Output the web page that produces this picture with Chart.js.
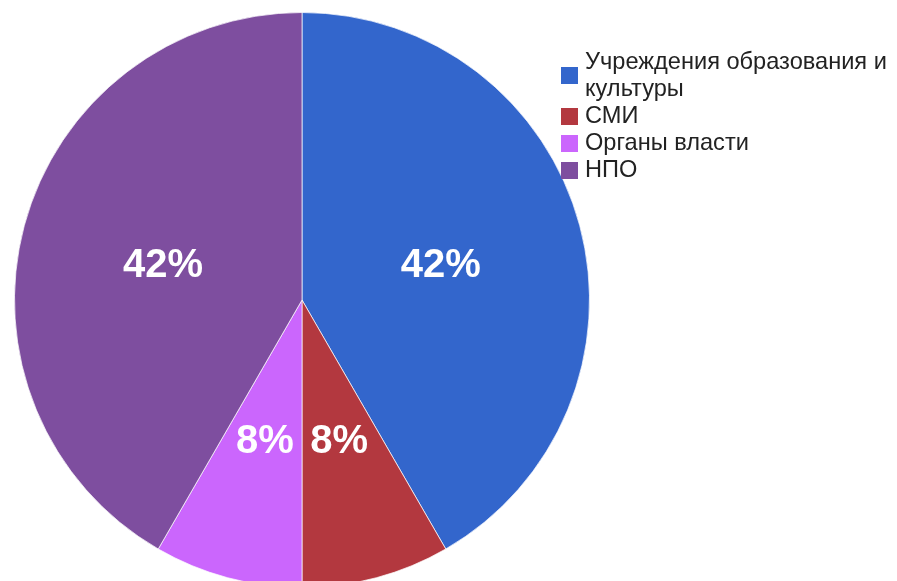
<!DOCTYPE html>
<html>
<head>
<meta charset="utf-8">
<script src="https://cdn.jsdelivr.net/npm/chart.js@4"></script>
<style>
  html, body { margin: 0; padding: 0; background: #fff; overflow: hidden; }
  #wrap { position: relative; width: 897px; height: 600px; }
  #legend { position: absolute; left: 561px; top: 48px; width: 336px;
    font-family: "Liberation Sans", Arial, sans-serif; font-size: 23.6px; color: #222; line-height: 27px; }
  .item { position: relative; padding-left: 24px; }
  .box { position: absolute; left: 0; width: 17px; height: 17px; top: 50%; margin-top: -8px; }
</style>
</head>
<body>
<div id="wrap">
  <canvas id="pie" width="897" height="600"></canvas>
  <div id="legend"></div>
</div>
<script>
// slice names and shares (5 of 12, 1 of 12 ...)
const categories = ["Учреждения образования и культуры", "СМИ", "Органы власти", "НПО"];
const values = [5, 1, 1, 5];
const colors = ["#3366cc", "#b3383f", "#cb66fd", "#7e4e9f"];

// build legend
const legend = document.getElementById("legend");
categories.forEach((c, i) => {
  const div = document.createElement("div");
  div.className = "item";
  div.innerHTML = '<span class="box" style="background:' + colors[i] + '"></span>' + c;
  legend.appendChild(div);
});

// percent labels on the slices
const sliceLabels = {
  id: "sliceLabels",
  afterDatasetsDraw(chart) {
    const ctx = chart.ctx;
    const total = values.reduce((a, b) => a + b, 0);
    const meta = chart.getDatasetMeta(0);
    ctx.save();
    ctx.font = "bold 40px 'Liberation Sans', Arial, sans-serif";
    ctx.fillStyle = "#fff";
    ctx.textAlign = "center";
    ctx.textBaseline = "middle";
    meta.data.forEach((arc, i) => {
      const p = arc.getCenterPoint();
      ctx.fillText(Math.round(values[i] / total * 100) + "%", p.x, p.y + 3);
    });
    ctx.restore();
  }
};

new Chart(document.getElementById("pie").getContext("2d"), {
  type: "pie",
  data: {
    labels: categories,
    datasets: [{ data: values, backgroundColor: colors, borderColor: "rgba(255,255,255,0.7)", borderWidth: 1 }]
  },
  options: {
    responsive: false,
    animation: false,
    layout: { padding: { left: 14, top: 12, right: 307, bottom: 12 } },
    plugins: { legend: { display: false }, tooltip: { enabled: false } }
  },
  plugins: [sliceLabels]
});
</script>
</body>
</html>
